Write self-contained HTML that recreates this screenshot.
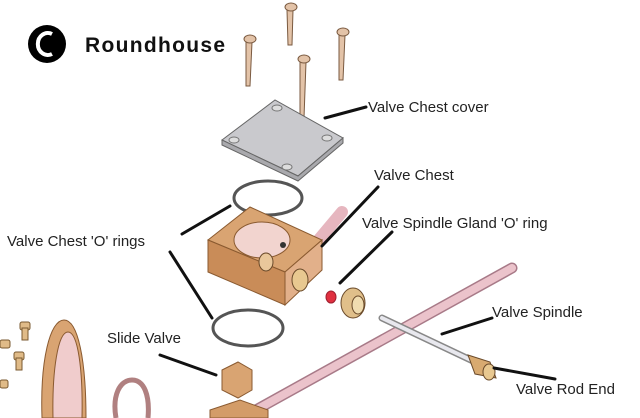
<!DOCTYPE html>
<html><head><style>
html,body{margin:0;padding:0;background:#fff;width:640px;height:418px;overflow:hidden;}
svg{display:block;overflow:hidden;}
text{font-family:"Liberation Sans",Arial,sans-serif;fill:#222;}
</style></head><body>
<svg width="640" height="418" viewBox="0 0 640 418" xmlns="http://www.w3.org/2000/svg">
<defs><clipPath id="c"><rect width="640" height="418"/></clipPath></defs>
<g clip-path="url(#c)">
<rect width="640" height="418" fill="#fff"/>
<circle cx="47" cy="44" r="19" fill="#000"/>
<path d="M52 34 A10 11 0 1 0 52 54" fill="none" stroke="#fff" stroke-width="4"/>
<text x="85" y="52" font-size="21" font-weight="bold" style="fill:#111" textLength="140">Roundhouse</text>

<g stroke="#7a5a40" stroke-width="1" fill="#e3c3a8">
<path d="M287 10 L293 10 L292 45 L288 45 Z"/><ellipse cx="291" cy="7" rx="6" ry="4"/>
<path d="M246 42 L252 42 L250 86 L246 86 Z"/><ellipse cx="250" cy="39" rx="6" ry="4"/>
<path d="M339 35 L345 35 L343 80 L339 80 Z"/><ellipse cx="343" cy="32" rx="6" ry="4"/>
<path d="M300 62 L306 62 L304 118 L300 118 Z"/><ellipse cx="304" cy="59" rx="6" ry="4"/>
</g>

<path d="M222 140 L275 100 L343 138 L298 176 Z" fill="#c9c9cd" stroke="#666" stroke-width="1"/>
<path d="M222 140 L222 145 L298 181 L343 143 L343 138 L298 176 Z" fill="#a9a9ad" stroke="#666" stroke-width="1"/>
<g fill="#ddd" stroke="#777"><ellipse cx="277" cy="108" rx="5" ry="3"/><ellipse cx="234" cy="140" rx="5" ry="3"/><ellipse cx="327" cy="138" rx="5" ry="3"/><ellipse cx="287" cy="167" rx="5" ry="3"/></g>

<ellipse cx="268" cy="198" rx="34" ry="17" fill="none" stroke="#555" stroke-width="3"/>
<ellipse cx="248" cy="328" rx="35" ry="18" fill="none" stroke="#555" stroke-width="3"/>

<line x1="300" y1="262" x2="342" y2="212" stroke="#e6b6bf" stroke-width="12" stroke-linecap="round"/>

<path d="M208 240 L250 207 L322 240 L285 272 Z" fill="#d9a472" stroke="#8a5a30"/>
<path d="M208 240 L285 272 L285 305 L208 272 Z" fill="#c98c58" stroke="#8a5a30"/>
<path d="M285 272 L322 240 L322 270 L285 305 Z" fill="#e2b08a" stroke="#8a5a30"/>
<ellipse cx="262" cy="240" rx="28" ry="18" fill="#f2d4cf" stroke="#8a5a30"/>
<ellipse cx="266" cy="262" rx="7" ry="9" fill="#e9c79b" stroke="#6a4a2a"/>
<circle cx="283" cy="245" r="3" fill="#333"/>
<ellipse cx="300" cy="280" rx="8" ry="11" fill="#e8c890" stroke="#6a4a2a"/>
<ellipse cx="331" cy="297" rx="5" ry="6" fill="#e03040" stroke="#a02030"/>
<ellipse cx="353" cy="303" rx="12" ry="15" fill="#e0bf8a" stroke="#6a4a2a"/>
<ellipse cx="358" cy="305" rx="6" ry="9" fill="#f0dcb0" stroke="#6a4a2a"/>

<line x1="245" y1="416" x2="512" y2="268" stroke="#a87a88" stroke-width="11" stroke-linecap="round"/>
<line x1="245" y1="416" x2="512" y2="268" stroke="#ebc3cb" stroke-width="8" stroke-linecap="round"/>
<line x1="382" y1="318" x2="475" y2="362" stroke="#888" stroke-width="7" stroke-linecap="round"/>
<line x1="382" y1="318" x2="475" y2="362" stroke="#e8e8ee" stroke-width="4" stroke-linecap="round"/>
<path d="M468 355 L490 362 L496 378 L475 374 Z" fill="#d8aa70" stroke="#6a4a2a"/>
<ellipse cx="489" cy="372" rx="6" ry="8" fill="#e8c890" stroke="#6a4a2a"/>

<path d="M222 370 L238 362 L252 370 L252 390 L238 398 L222 390 Z" fill="#d9a472" stroke="#8a5a30"/>
<path d="M210 410 L240 400 L268 410 L268 418 L210 418 Z" fill="#d39c68" stroke="#8a5a30"/>

<path d="M42 418 C40 360 50 320 64 320 C78 320 86 360 86 418 Z" fill="#d9a472" stroke="#8a5a30"/>
<path d="M53 418 C52 370 58 332 68 332 C78 332 83 370 82 418 Z" fill="#f0cccc" stroke="#8a5a30"/>
<path d="M116 418 C112 395 120 380 132 380 C144 380 150 395 148 418" fill="none" stroke="#b08080" stroke-width="5"/>
<g fill="#e0bb88" stroke="#7a5a30">
<rect x="20" y="322" width="10" height="8" rx="2"/><rect x="22" y="328" width="6" height="12"/>
<rect x="0" y="340" width="10" height="8" rx="2"/>
<rect x="14" y="352" width="10" height="8" rx="2"/><rect x="16" y="358" width="6" height="12"/>
<rect x="0" y="380" width="8" height="8" rx="2"/>
</g>

<g stroke="#111" stroke-width="3" stroke-linecap="round">
<line x1="325" y1="118" x2="366" y2="107"/>
<line x1="378" y1="187" x2="322" y2="246"/>
<line x1="182" y1="234" x2="230" y2="206"/>
<line x1="170" y1="252" x2="212" y2="318"/>
<line x1="392" y1="232" x2="340" y2="283"/>
<line x1="492" y1="318" x2="442" y2="334"/>
<line x1="160" y1="355" x2="216" y2="375"/>
<line x1="494" y1="368" x2="555" y2="379"/>
</g>

<g font-size="15">
<text x="368" y="112">Valve Chest cover</text>
<text x="374" y="180">Valve Chest</text>
<text x="362" y="228">Valve Spindle Gland 'O' ring</text>
<text x="7" y="246">Valve Chest 'O' rings</text>
<text x="492" y="317">Valve Spindle</text>
<text x="107" y="343">Slide Valve</text>
<text x="516" y="394">Valve Rod End</text>
</g>
</g>
</svg>
</body></html>
